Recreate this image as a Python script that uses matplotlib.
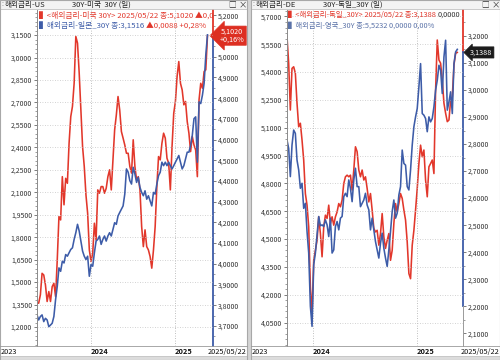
import numpy as np
import pandas as pd
import matplotlib
matplotlib.use('Agg')
import matplotlib.pyplot as plt
import matplotlib.transforms as mtransforms
from matplotlib.patches import Rectangle
from matplotlib.lines import Line2D
from matplotlib.ticker import FixedLocator, FuncFormatter, AutoMinorLocator

plt.rcParams['font.family'] = ['Noto Sans CJK KR', 'DejaVu Sans']

# ---- data ----
us_dates = pd.date_range('2023-05-11', '2025-05-22', periods=102)
us_30y = [3.810, 3.810, 3.850, 3.954, 3.946, 3.898, 3.818, 3.866, 3.818, 3.890,
          3.906, 3.842, 4.019, 4.228, 4.212, 4.421, 4.285, 4.413, 4.389, 4.582,
          4.711, 4.760, 4.872, 5.098, 5.066, 4.921, 4.743, 4.566, 4.470, 4.333,
          4.244, 4.067, 4.011, 4.051, 4.196, 4.115, 4.357, 4.341, 4.373, 4.373,
          4.341, 4.365, 4.421, 4.454, 4.357, 4.502, 4.647, 4.719, 4.808, 4.743,
          4.639, 4.607, 4.574, 4.534, 4.534, 4.470, 4.438, 4.599, 4.470, 4.405,
          4.421, 4.357, 4.180, 4.083, 4.164, 4.083, 4.067, 4.035, 3.979, 4.067,
          4.180, 4.373, 4.518, 4.502, 4.582, 4.631, 4.607, 4.510, 4.486, 4.357,
          4.566, 4.727, 4.784, 4.905, 4.977, 4.872, 4.840, 4.768, 4.784, 4.687,
          4.631, 4.542, 4.615, 4.574, 4.550, 4.421, 4.792, 4.872, 4.848, 4.929,
          4.937, 5.102]
jp_30y = [1.281, 1.247, 1.270, 1.281, 1.236, 1.258, 1.247, 1.202, 1.213, 1.225,
          1.270, 1.382, 1.471, 1.595, 1.572, 1.639, 1.628, 1.684, 1.673, 1.696,
          1.718, 1.729, 1.785, 1.830, 1.886, 1.841, 1.774, 1.707, 1.673, 1.651,
          1.673, 1.539, 1.617, 1.606, 1.696, 1.774, 1.785, 1.808, 1.752, 1.785,
          1.808, 1.774, 1.808, 1.830, 1.808, 1.852, 1.897, 1.886, 1.942, 1.965,
          1.987, 2.009, 2.088, 2.256, 2.234, 2.178, 2.155, 2.267, 2.222, 2.166,
          2.200, 2.133, 2.099, 2.077, 2.110, 2.054, 2.077, 2.043, 2.009, 2.099,
          2.088, 2.155, 2.211, 2.234, 2.301, 2.278, 2.301, 2.278, 2.301, 2.278,
          2.256, 2.278, 2.301, 2.323, 2.346, 2.301, 2.256, 2.278, 2.323, 2.368,
          2.368, 2.413, 2.480, 2.592, 2.604, 2.301, 2.704, 2.693, 2.749, 2.828,
          3.018, 3.152]

eu_dates = pd.date_range('2023-10-02', '2025-05-22', periods=103)
de_30y = [3.198, 3.099, 2.926, 3.080, 3.086, 3.062, 2.951, 2.864, 2.877, 2.815,
          2.741, 2.617, 2.574, 2.494, 2.272, 2.173, 2.370, 2.407, 2.444, 2.531,
          2.469, 2.383, 2.494, 2.537, 2.525, 2.574, 2.506, 2.531, 2.500, 2.531,
          2.549, 2.580, 2.568, 2.593, 2.654, 2.679, 2.685, 2.679, 2.685, 2.630,
          2.704, 2.790, 2.772, 2.704, 2.679, 2.704, 2.667, 2.679, 2.636, 2.586,
          2.617, 2.556, 2.488, 2.475, 2.481, 2.426, 2.469, 2.543, 2.457, 2.414,
          2.444, 2.469, 2.370, 2.407, 2.506, 2.580, 2.549, 2.580, 2.617, 2.599,
          2.556, 2.519, 2.438, 2.321, 2.302, 2.426, 2.481, 2.556, 2.636, 2.728,
          2.796, 2.753, 2.778, 2.667, 2.605, 2.716, 2.728, 2.741, 2.691, 3.000,
          3.185, 3.111, 3.099, 3.037, 2.951, 2.914, 2.883, 2.889, 2.963, 2.975,
          3.093, 3.136, 3.139]
uk_30y = [5.034, 4.989, 4.837, 5.007, 5.088, 5.070, 4.926, 4.873, 4.774, 4.801,
          4.666, 4.693, 4.541, 4.425, 4.138, 4.030, 4.362, 4.425, 4.523, 4.622,
          4.572, 4.577, 4.568, 4.604, 4.577, 4.514, 4.613, 4.425, 4.442, 4.568,
          4.595, 4.550, 4.613, 4.622, 4.729, 4.747, 4.729, 4.819, 4.774, 4.702,
          4.819, 4.882, 4.783, 4.783, 4.675, 4.693, 4.711, 4.747, 4.684, 4.658,
          4.550, 4.613, 4.550, 4.487, 4.442, 4.398, 4.478, 4.532, 4.451, 4.398,
          4.353, 4.442, 4.541, 4.649, 4.711, 4.613, 4.640, 4.738, 4.783, 4.980,
          4.908, 4.899, 4.783, 4.765, 4.873, 5.007, 5.106, 5.159, 5.204, 5.321,
          5.446, 5.177, 5.168, 5.150, 5.079, 5.159, 5.132, 5.150, 5.213, 5.303,
          5.356, 5.437, 5.410, 5.285, 5.482, 5.572, 5.195, 5.240, 5.294, 5.177,
          5.446, 5.509, 5.523]

jp_ticks = np.round(np.arange(1.2, 3.16, 0.15), 2)
# the 5.1 label sits under the last-value box in the original, so it is left out
us_ticks = [3.7, 3.8, 3.9, 4.0, 4.1, 4.2, 4.3, 4.4, 4.5, 4.6, 4.7, 4.8, 4.9, 5.0, 5.2]
uk_ticks = np.round(np.arange(4.05, 5.71, 0.15), 2)
de_ticks = np.round(np.arange(2.1, 3.21, 0.1), 2)
year_ticks = pd.to_datetime(['2024-01-01', '2025-01-01'])
year_labels = ['2024', '2025']

RED = '#e2372b'
BLUE = '#3d5ca8'
GRID = '#c4c4c4'
TXT = '#333333'

fig = plt.figure(figsize=(5, 3.6), dpi=100)
fig.patch.set_facecolor('white')


def fx(p):
    return p / 500


def fy(p):
    return 1 - p / 360


def comma(v, pos=None):
    return f'{v:.4f}'.replace('.', ',')


# grey gap between the two windows
fig.add_artist(Rectangle((fx(247), 0), fx(4), 1, transform=fig.transFigure,
                         fc='#d4d4d4', ec='none'))


def make_panel(px0, px1, ax0, ax1, xlim, dates, blue, red, blue_lim, red_lim,
               blue_ticks, red_ticks, title_a, title_b):
    # window frame, title bar, bottom strip
    fig.add_artist(Rectangle((fx(px0), fy(9)), fx(px1 - px0), 9 / 360, transform=fig.transFigure,
                             fc='#f3f3f3', ec='#b8b8b8', lw=0.5))
    fig.add_artist(Rectangle((fx(px0), 0), fx(px1 - px0), 4 / 360, transform=fig.transFigure,
                             fc='#dcdcdc', ec='#b8b8b8', lw=0.5))
    fig.add_artist(Line2D([fx(px0), fx(px1)], [fy(346), fy(346)], transform=fig.transFigure,
                          color='#9a9a9a', lw=0.6))
    fig.add_artist(Rectangle((fx(px0), 0), fx(px1 - px0), 1, transform=fig.transFigure,
                             fill=False, ec='#a8a8a8', lw=0.8))
    fig.text(fx(px0 + 1), fy(4.5), ':', fontsize=5, color='#888', va='center')
    fig.text(fx(px0 + 5), fy(4.5), title_a, fontsize=5.5, color='#222', va='center')
    fig.text(fx(px0 + 72), fy(4.5), title_b, fontsize=5.5, color='#222', va='center')
    fig.text(fx(px1 - 19), fy(4.5), '□', fontsize=5.5, color='#333', va='center')
    fig.text(fx(px1 - 8), fy(4.5), '×', fontsize=6, color='#333', va='center')

    ax = fig.add_axes([fx(ax0), fy(346), fx(ax1 - ax0), 336 / 360])
    ax2 = ax.twinx()
    ax.set_zorder(ax2.get_zorder() + 1)
    ax.patch.set_visible(False)

    ax2.plot(dates, red, color=RED, lw=1.15)
    ax.plot(dates, blue, color=BLUE, lw=1.15)

    ax.set_xlim(pd.to_datetime(xlim[0]), pd.to_datetime(xlim[1]))
    ax.set_ylim(blue_lim)
    ax2.set_ylim(red_lim)

    ax.yaxis.set_major_locator(FixedLocator(blue_ticks))
    ax.yaxis.set_major_formatter(FuncFormatter(comma))
    ax.yaxis.set_minor_locator(AutoMinorLocator(5))
    ax2.yaxis.set_major_locator(FixedLocator(red_ticks))
    ax2.yaxis.set_major_formatter(FuncFormatter(comma))
    ax2.yaxis.set_minor_locator(AutoMinorLocator(2))

    for a in (ax, ax2):
        a.tick_params(axis='y', which='major', length=2.5, width=0.6, color='#666',
                      labelsize=5, pad=1, labelcolor=TXT)
        a.tick_params(axis='y', which='minor', length=1.3, width=0.5, color='#777')
        for s in a.spines.values():
            s.set_visible(False)
    ax.spines['left'].set_visible(True)
    ax.spines['left'].set_color('#8a8a8a')
    ax.spines['left'].set_linewidth(0.7)

    ax.set_xticks(year_ticks)
    ax.set_xticklabels(year_labels, fontweight='bold')
    ax.tick_params(axis='x', length=0, pad=1.2, labelsize=5.3, labelcolor='#111')
    for lab in ax.get_xticklabels():
        lab.set_ha('left')

    ax.grid(axis='y', which='major', ls=(0, (1, 2)), color=GRID, lw=0.6)
    ax.grid(axis='x', which='major', ls=(0, (1, 2)), color='#aaaaaa', lw=0.6)

    fig.text(fx(px0 + 1), fy(352), '2023', fontsize=5.3, color='#111', va='center')
    fig.text(fx(px1 - 1), fy(352), '2025/05/22', fontsize=5.3, color='#111', va='center', ha='right')
    return ax, ax2


def legend_line(ax, x_px, y_px, pieces, size=5.6):
    prev = None
    for txt, col in pieces:
        if prev is None:
            t = ax.text(fx(x_px), fy(y_px), txt, transform=fig.transFigure, fontsize=size,
                        color=col, va='center', ha='left', clip_on=True)
        else:
            t = ax.annotate(txt, xy=(1, 0), xycoords=prev, fontsize=size, color=col,
                            va='bottom', ha='left', annotation_clip=False, clip_on=True)
        t.set_clip_box(ax.bbox)
        prev = t


def right_spine(ax2, segments):
    tr = mtransforms.blended_transform_factory(ax2.transAxes, ax2.transData)
    for y0, y1, col, lw in segments:
        ax2.add_line(Line2D([1, 1], [y0, y1], transform=tr, color=col, lw=lw,
                            clip_on=False, zorder=6))


def value_box(ax2, value, text, color):
    tr = mtransforms.blended_transform_factory(ax2.transAxes, ax2.transData)
    tr = mtransforms.offset_copy(tr, fig=fig, x=5.0, y=0, units='points')
    ax2.text(1.0, value, text, transform=tr, ha='left', va='center', color='white',
             fontsize=5.2, linespacing=1.0, multialignment='center', zorder=10, clip_on=False,
             bbox=dict(boxstyle='larrow,pad=0.22', fc=color, ec=color, lw=0.5))


# ---- left window : US (red, right axis) / Japan (blue, left axis) ----
axL, axL2 = make_panel(0, 247, 37, 213, ('2023-05-11', '2025-06-15'), us_dates,
                       jp_30y, us_30y, (1.073, 3.318), (3.603, 5.226),
                       jp_ticks, us_ticks, '해외금리-US', '30Y-미국  30Y (일)')
# first legend line is cut off by the price axis in the original
legend_line(axL, 39, 15, [('▌<해외금리-미국 30Y> 2025/05/22 종:5,1020 ▲0,0', RED)])
legend_line(axL, 39, 25.5, [('▌해외금리-일본_30Y 종:3,1516 ', BLUE), ('▲0,0088 +0,28%', RED)])
right_spine(axL2, [(5.226, us_30y[-1], RED, 1.3), (us_30y[-1], 3.603, BLUE, 1.3)])
value_box(axL2, us_30y[-1], '5,1020\n+0,16%', '#dd2f22')

# ---- right window : Germany (red, right axis) / UK (blue, left axis) ----
axR, axR2 = make_panel(251, 500, 287, 463, ('2023-10-02', '2025-06-11'), eu_dates,
                       uk_30y, de_30y, (3.924, 5.735), (2.053, 3.296),
                       uk_ticks, de_ticks, '해외금리-DE', '30Y-독일_30Y (일)')
legend_line(axR, 288, 15, [('▌<해외금리-독일_30Y> 2025/05/22 종:3,1388 ', RED), ('0,0000', '#333333')],
            size=5.3)
legend_line(axR, 288, 25.5, [('▌해외금리-영국_30Y 종:5,5232 0,0000 0,00%', '#5a72a8')], size=5.3)
right_spine(axR2, [(3.296, de_30y[-1], RED, 1.3), (de_30y[-1], 2.2, BLUE, 1.3),
                   (2.2, 2.053, '#9a9a9a', 0.7)])
value_box(axR2, de_30y[-1], '3,1388', '#1c1c1c')

fig.savefig('out.png', dpi=100)
